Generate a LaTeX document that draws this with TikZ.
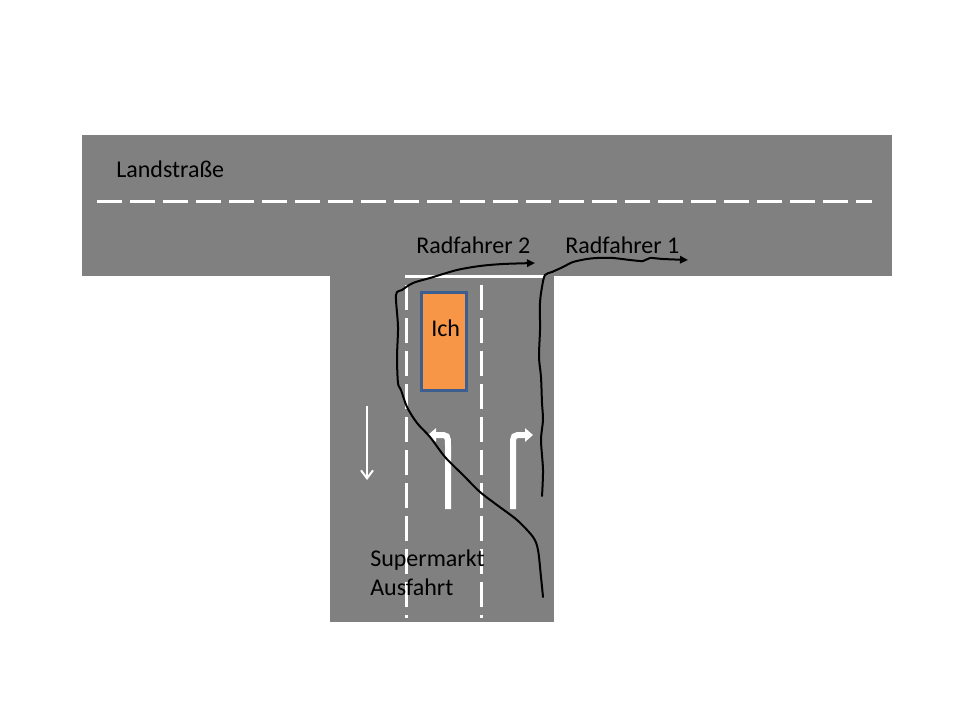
\documentclass[tikz,border=0pt]{standalone}
\usepackage{fontspec}
\setmainfont{Carlito}
\usetikzlibrary{arrows.meta}
\definecolor{road}{HTML}{808080}
\definecolor{car}{HTML}{F79646}
\definecolor{carline}{HTML}{3C5F8F}

\begin{document}
\begin{tikzpicture}[x=0.75pt,y=-0.75pt,
    every node/.style={inner sep=0pt,anchor=west,font=\fontsize{18}{21.75}\selectfont},
    lane/.style={white,line width=2.25pt,dash pattern=on 18.75pt off 6pt},
    turn/.style={white,line width=4.5pt,-{Triangle[length=6pt,width=10pt]}},
    track/.style={black,line width=1.5pt,line cap=round,line join=round,
      -{Triangle[length=6pt,width=5.5pt]}}]
  \useasboundingbox(0,0)rectangle(960,720);
  % roads
  \fill[road](82,135)rectangle(892,276);
  \fill[road](330,275)rectangle(554,622);
  \draw[lane](97,202)--(872,202);
  \draw[lane](406,285)--(406,618);
  \draw[lane](481,285)--(481,618);
  \draw[white,line width=2.25pt](405,277)--(545,277);
  % lane arrows
  \draw[white,line width=1.5pt,-{Straight Barb[length=6pt,width=9pt]}](367,406)--(367,480);
  \draw[turn](448,509)--(448,446) .. controls (448,435) .. (438,435)--(428,435);
  \draw[turn](513,509)--(513,446) .. controls (513,435) .. (523,435)--(533,435);
  % car
  \draw[fill=car,draw=carline,line width=2.25pt](421,293)rectangle(466,390);
  \node (ich) at (431,328) {Ich};
  % cyclists
  \draw[track] plot[smooth,tension=0.5] coordinates {(543,597) (541,577) (538,550)
    (533,537) (517,520) (497,505) (480,492) (463,475) (445,457) (430,437)
    (417,423) (407,407) (401,390) (398,383) (397,357) (398,327) (396,295)
    (402,290) (413,283) (430,278) (457,270) (480,266) (503,264) (535,263)};
  \draw[track] plot[smooth,tension=0.5] coordinates {(542,496) (543,470) (541,440)
    (543,420) (542,403) (541,377) (539,357) (540,330) (540,303) (542,287)
    (545,275) (552,272) (563,267) (573,262) (587,259) (597,258) (613,258)
    (630,260) (643,261) (650,258) (663,259) (688,260)};
  % labels
  \node (landstr) at (116,169) {Landstraße};
  \node (rad2) at (416,245) {Radfahrer 2};
  \node (rad1) at (565,245) {Radfahrer 1};
  \node[align=left] (ausfahrt) at (370,573) {Supermarkt\\Ausfahrt};
\end{tikzpicture}
\end{document}
